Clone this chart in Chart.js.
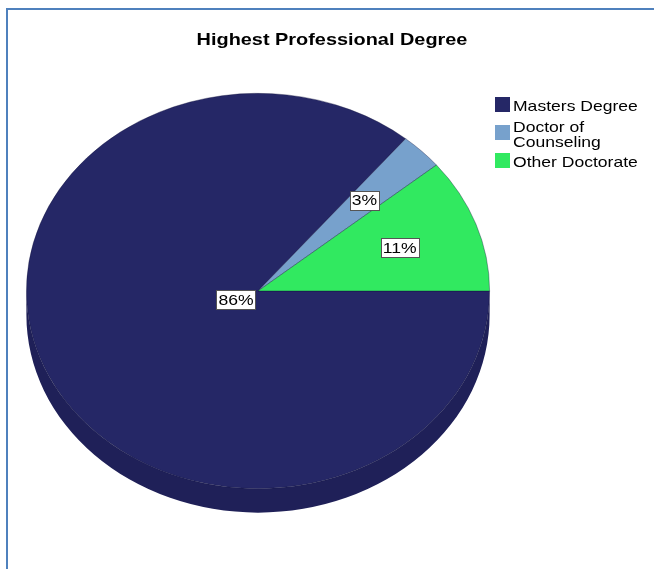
<!DOCTYPE html>
<html>
<head>
<meta charset="utf-8">
<script src="https://cdn.jsdelivr.net/npm/chart.js@4"></script>
<style>
    body { margin: 0; background: #fff; }
    #frame {
        position: absolute; left: 6px; top: 8px; width: 700px; height: 600px;
        border-left: 2px solid #4F81BD; border-top: 2px solid #4F81BD;
    }
    #myChart { position: absolute; left: 0; top: 0; }
</style>
</head>
<body>
<div id="frame"></div>
<canvas id="myChart" width="654" height="569"></canvas>
<script>
const categories = ['Masters Degree', 'Doctor of Counseling', 'Other Doctorate'];
const percents = [86, 3, 11];
const sliceColors = ['#252766', '#77A1CC', '#31E960'];
const sideColors = ['#1F2058', '#5F84AA', '#26B84B'];

const FONT = "'Liberation Sans', Arial, sans-serif";
const tilt = 198 / 232;   // vertical squash of the top face
const depth = 24;         // thickness of the pie
const stretch = 1.17;     // text in the original is drawn wide

function wideText(ctx, txt, x, y) {
    ctx.save();
    ctx.translate(x, y);
    ctx.scale(stretch, 1);
    ctx.fillText(txt, 0, 0);
    ctx.restore();
}

// 3d look: side wall first, then squash the top face
const pie3d = {
    id: 'pie3d',
    beforeDatasetsDraw(chart) {
        const ctx = chart.ctx;
        const arcs = chart.getDatasetMeta(0).data;
        ctx.save();
        arcs.forEach((arc, i) => {
            const p = arc.getProps(['x', 'y', 'startAngle', 'endAngle', 'outerRadius'], true);
            [0, 2 * Math.PI].forEach(shift => {
                const lo = Math.max(p.startAngle - shift, 0);
                const hi = Math.min(p.endAngle - shift, Math.PI);
                if (hi <= lo) return;
                ctx.beginPath();
                ctx.ellipse(p.x, p.y, p.outerRadius, p.outerRadius * tilt, 0, lo, hi);
                ctx.ellipse(p.x, p.y + depth, p.outerRadius, p.outerRadius * tilt, 0, hi, lo, true);
                ctx.closePath();
                ctx.fillStyle = sideColors[i];
                ctx.fill();
            });
        });
        ctx.restore();

        const first = arcs[0];
        ctx.save();
        ctx.translate(first.x, first.y);
        ctx.scale(1, tilt);
        ctx.translate(-first.x, -first.y);
    },
    afterDatasetsDraw(chart) {
        const ctx = chart.ctx;
        ctx.restore();

        // percentage labels
        const arcs = chart.getDatasetMeta(0).data;
        ctx.save();
        ctx.font = '15px ' + FONT;
        ctx.textAlign = 'center';
        ctx.textBaseline = 'middle';
        arcs.forEach((arc, i) => {
            const p = arc.getProps(['x', 'y', 'startAngle', 'endAngle', 'outerRadius'], true);
            const mid = (p.startAngle + p.endAngle) / 2;
            const frac = percents[i] > 50 ? 0.105 : 0.65;
            const lx = p.x + Math.cos(mid) * p.outerRadius * frac;
            const ly = p.y + Math.sin(mid) * p.outerRadius * frac * tilt;
            const txt = percents[i] + '%';
            const w = Math.round(ctx.measureText(txt).width * stretch + 4);
            const h = 19;
            const bx = Math.round(lx - w / 2) + 0.5, by = Math.round(ly - h / 2) + 0.5;
            ctx.fillStyle = '#fff';
            ctx.fillRect(bx, by, w, h);
            ctx.strokeStyle = '#555';
            ctx.lineWidth = 1;
            ctx.strokeRect(bx, by, w, h);
            ctx.fillStyle = '#000';
            wideText(ctx, txt, lx, ly + 1);
        });

        // title
        ctx.font = 'bold 17px ' + FONT;
        wideText(ctx, 'Highest Professional Degree', 332, 40);

        // legend
        ctx.font = '15px ' + FONT;
        ctx.textAlign = 'left';
        ctx.textBaseline = 'alphabetic';
        chart.data.labels.forEach((lab, i) => {
            const y = 97 + i * 28;
            ctx.fillStyle = sliceColors[i];
            ctx.fillRect(495, y, 15, 15);
            ctx.fillStyle = '#000';
            // wrap long labels
            const lines = [];
            let line = '';
            lab.split(' ').forEach(wd => {
                const test = line ? line + ' ' + wd : wd;
                if (ctx.measureText(test).width * stretch > 135 && line) {
                    lines.push(line);
                    line = wd;
                } else {
                    line = test;
                }
            });
            lines.push(line);
            const y0 = y + 14 - (lines.length - 1) * 15 / 2;
            lines.forEach((ln, k) => wideText(ctx, ln, 513, y0 + k * 15));
        });
        ctx.restore();
    }
};

const ctx = document.getElementById('myChart').getContext('2d');
new Chart(ctx, {
    type: 'pie',
    data: {
        labels: categories,
        datasets: [{
            data: percents,
            backgroundColor: sliceColors,
            borderColor: 'rgba(20,20,60,0.5)',
            borderWidth: 0.8
        }]
    },
    options: {
        responsive: false,
        animation: false,
        rotation: 90,
        layout: { padding: { left: 26, right: 164, top: 59, bottom: 46 } },
        plugins: {
            legend: { display: false },
            title: { display: false },
            tooltip: { enabled: false }
        }
    },
    plugins: [pie3d]
});
</script>
</body>
</html>
